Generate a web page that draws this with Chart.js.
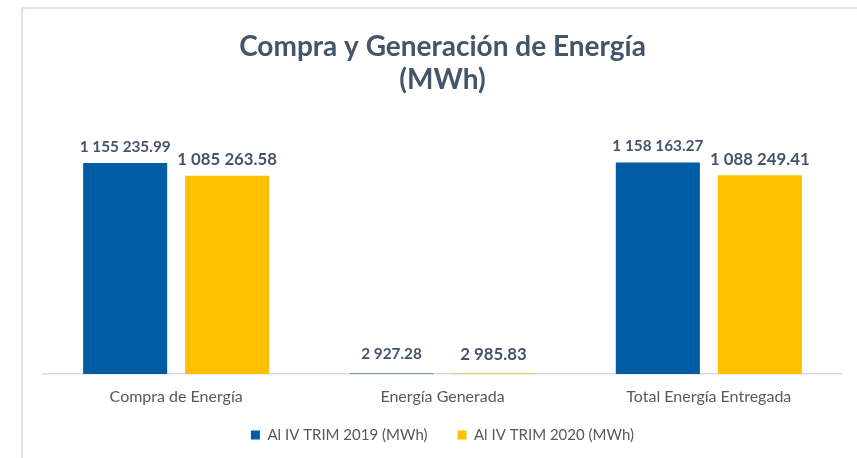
<!DOCTYPE html>
<html>
<head>
<meta charset="utf-8">
<script src="https://cdn.jsdelivr.net/npm/chart.js@4.4.1/dist/chart.umd.min.js"></script>
<style>
  html, body { margin: 0; padding: 0; background: #fff; }
  #frame { position: absolute; left: 21px; top: 7px; width: 836px; height: 451px;
           border-left: 2px solid #DCE3EC; border-top: 2px solid #DCE3EC; box-sizing: border-box; }
  #wrap { position: absolute; left: 0; top: 0; width: 857px; height: 458px; }
</style>
</head>
<body>
<div id="frame"></div>
<div id="wrap"><canvas id="c" width="857" height="458"></canvas></div>
<script>
const categories = ['Compra de Energía', 'Energía Generada', 'Total Energía Entregada'];
const seriesNames = ['Al IV TRIM 2019 (MWh)', 'Al IV TRIM 2020 (MWh)'];
const values2019 = [1155235.99, 2927.28, 1158163.27];
const values2020 = [1085263.58, 2985.83, 1088249.41];
const titleLines = ['Compra y Generación de Energía', '(MWh)'];

function fmt(v) {
  const parts = v.toFixed(2).split('.');
  parts[0] = parts[0].replace(/\B(?=(\d{3})+(?!\d))/g, ' ');
  return parts.join('.');
}

const labelPlugin = {
  id: 'barLabels',
  afterDatasetsDraw(chart) {
    const ctx = chart.ctx;
    ctx.save();
    ctx.textAlign = 'center';
    ctx.textBaseline = 'middle';
    ctx.fillStyle = '#44546A';
    chart.data.datasets.forEach((ds, di) => {
      const meta = chart.getDatasetMeta(di);
      ctx.font = (di === 0 ? 'bold 15.3px Lato' : 'bold 16.8px Lato');
      meta.data.forEach((bar, i) => {
        const small = ds.data[i] < 100000;
        ctx.fillText(fmt(ds.data[i]), bar.x, bar.y - (small ? 19 : 16));
      });
    });
    ctx.restore();
  }
};

// let the x tick labels extend below the (shortened) axis box without clipping
const unclipPlugin = {
  id: 'unclipX',
  afterLayout(chart) {
    const x = chart.scales.x;
    x.bottom = x.top + 40;
  }
};

new Chart(document.getElementById('c'), {
  type: 'bar',
  data: {
    labels: categories,
    datasets: [
      { label: seriesNames[0], data: values2019, backgroundColor: '#005CA5' },
      { label: seriesNames[1], data: values2020, backgroundColor: '#FFC000' }
    ]
  },
  options: {
    responsive: false,
    animation: false,
    devicePixelRatio: 1,
    categoryPercentage: 0.766,
    barPercentage: 0.824,
    layout: { padding: { left: 43, right: 15, top: 0, bottom: 5.5 } },
    scales: {
      x: {
        grid: { display: false },
        border: { display: true, color: '#D9DDE3', width: 1.5 },
        ticks: { color: '#595959', font: { family: 'Lato', size: 16 }, padding: 5.4 },
        afterFit(scale) { scale.height = 23.5; }
      },
      y: { display: false, min: 0, max: 1400000 }
    },
    plugins: {
      title: {
        display: true,
        text: titleLines,
        color: '#44546A',
        font: { family: 'Lato', size: 28, weight: 'bold', lineHeight: 1.2 },
        padding: { top: 30, bottom: 21 }
      },
      legend: {
        position: 'bottom',
        labels: {
          color: '#595959',
          font: { family: 'Lato', size: 15 },
          boxWidth: 9, boxHeight: 9,
          padding: 30
        }
      },
      tooltip: { enabled: false }
    }
  },
  plugins: [labelPlugin, unclipPlugin]
});
</script>
</body>
</html>
